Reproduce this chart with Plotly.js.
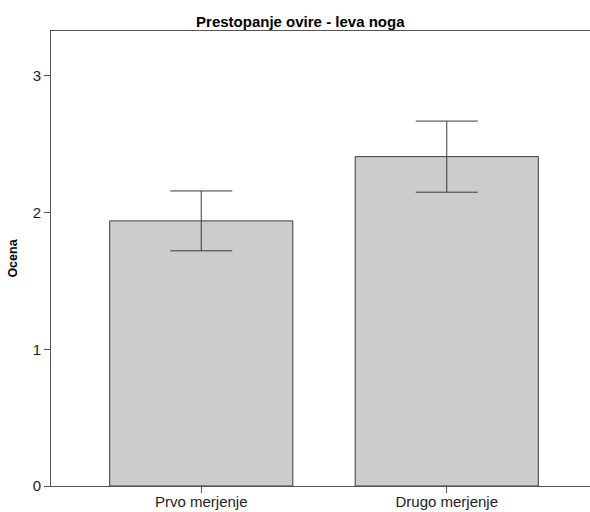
<!DOCTYPE html>
<html>
<head>
<meta charset="utf-8">
<script src="https://cdn.plot.ly/plotly-3.0.1.min.js"></script>
<style>html,body{margin:0;padding:0;background:#fff;overflow:hidden;}#chart{width:597px;height:512px;}</style>
</head>
<body>
<div id="chart"></div>
<script>
const categories = ["Prvo merjenje", "Drugo merjenje"];
const means = [1.939, 2.409];
const errUpper = [2.158, 2.669];
const errLower = [1.720, 2.149];
const yTicks = [0, 1, 2, 3];

const plus = means.map((m, i) => errUpper[i] - m);
const minus = means.map((m, i) => m - errLower[i]);

const trace = {
  type: "bar",
  x: [0, 1],
  y: means,
  width: 0.746,
  marker: { color: "#cccccc", line: { color: "#3a3a3a", width: 1 } },
  error_y: { type: "data", symmetric: false, array: plus, arrayminus: minus,
             color: "#3a3a3a", thickness: 1, width: 31 },
  hoverinfo: "none"
};

const layout = {
  width: 597, height: 512,
  margin: { l: 51, r: 0, t: 31, b: 26 },
  paper_bgcolor: "#fff", plot_bgcolor: "#fff",
  showlegend: false,
  font: { family: "Liberation Sans, Arial, sans-serif", color: "#222" },
  title: { text: "<b>Prestopanje ovire - leva noga</b>", font: { size: 15, color: "#000" },
           x: 0.503, xref: "container", y: 0.957, yref: "container", yanchor: "middle" },
  xaxis: {
    range: [-0.612, 1.612],
    tickvals: [0, 1], ticktext: categories,
    showline: true, linecolor: "#555", linewidth: 1, mirror: true,
    ticks: "outside", ticklen: 6, tickcolor: "#555",
    ticklabelstandoff: -4,
    showgrid: false, zeroline: false, automargin: false,
    tickfont: { size: 15, color: "#222" }
  },
  yaxis: {
    range: [0, 3.328],
    tickvals: yTicks,
    showline: true, linecolor: "#555", linewidth: 1,
    ticks: "outside", ticklen: 6, tickcolor: "#555",
    showgrid: false, zeroline: false, automargin: false,
    tickfont: { size: 15, color: "#222" },
    title: { text: "<b>Ocena</b>", font: { size: 12.5, color: "#000" }, standoff: 12 }
  }
};

Plotly.newPlot("chart", [trace], layout, { displayModeBar: false, staticPlot: true });
</script>
</body>
</html>
